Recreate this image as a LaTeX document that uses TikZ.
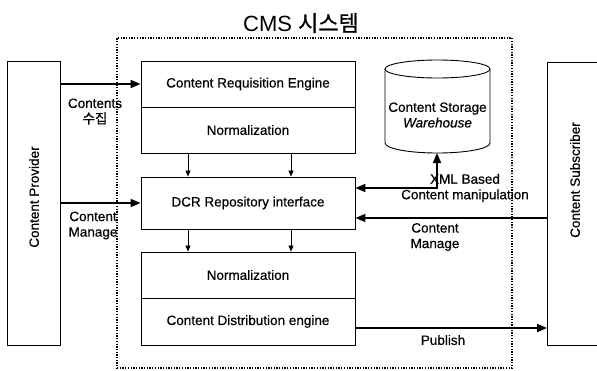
\documentclass[tikz,border=0pt]{standalone}
\usepackage{fontspec}
\setmainfont[FakeBold=0.5]{Liberation Sans}
\newfontfamily\plainfont{Liberation Sans}
\newfontfamily\krfont[FakeBold=0.8]{Noto Sans CJK KR}
\usetikzlibrary{arrows.meta}
\tikzset{
  blk/.style={draw, line width=0.9pt, inner sep=0pt, minimum width=214pt, font=\fontsize{13.5}{15}\selectfont},
  lbl/.style={inner sep=0pt, align=center, font=\fontsize{13.5}{15.5}\selectfont},
  sidebox/.style={draw, line width=0.9pt, inner sep=0pt},
  bigarrow/.style={line width=1.7pt, -{Triangle[length=10pt,width=8pt]}},
  bigarrowboth/.style={line width=1.7pt, {Triangle[length=10pt,width=8pt]}-{Triangle[length=10pt,width=8pt]}},
  smallarrow/.style={line width=0.8pt, -{Triangle[length=6pt,width=5pt]}},
  dotbox/.style={draw, line width=1.8pt, dash pattern=on 1.3pt off 1.4pt, inner sep=0pt}
}
\begin{document}
\begin{tikzpicture}[x=1pt,y=-1pt]
\clip (0,0) rectangle (597,370);
% title and dotted system box
\node[dotbox, minimum width=395pt, minimum height=330pt] (cms) at (314.5,203) {};
\node[inner sep=0pt, font=\fontsize{22}{24}\selectfont] (title) at (301,23) {{\plainfont CMS} {\krfont 시스템}};
% side boxes
\node[sidebox, minimum width=53pt, minimum height=284pt] (prov) at (33.5,203) {};
\node[lbl, rotate=90] (provtext) at (34,197) {Content Provider};
\node[sidebox, minimum width=70pt, minimum height=283pt, anchor=north west] (subs) at (547,62) {};
\node[lbl, rotate=90] (substext) at (575,180) {Content Subscriber};
% central blocks
\node[blk, minimum height=46pt] (req) at (248,84) {Content Requisition Engine};
\node[blk, minimum height=46pt] (norm1) at (248,130) {Normalization};
\node[blk, minimum height=52pt] (dcr) at (248,203) {DCR Repository interface};
\node[blk, minimum height=46pt] (norm2) at (248,275) {Normalization};
\node[blk, minimum height=47pt] (dist) at (248,321.5) {Content Distribution engine};
% cylinder
\draw[line width=0.9pt] (385,69) -- (385,143)
  arc[start angle=180, end angle=360, x radius=52.5pt, y radius=10pt] -- (490,69);
\draw[line width=0.9pt] (437.5,69) ellipse[x radius=52.5pt, y radius=9pt];
\node[lbl] (cyl) at (437.5,115) {Content Storage\\ \textit{Warehouse}};
\coordinate (cylbot) at (437,153);
% helper coordinates
\coordinate (xa) at (188,0);
\coordinate (xb) at (291,0);
\coordinate (yxml) at (0,188);
\coordinate (ycm) at (0,218);
\coordinate (ypub) at (0,328);
% small arrows
\draw[smallarrow] (norm1.south -| xa) -- (dcr.north -| xa);
\draw[smallarrow] (norm1.south -| xb) -- (dcr.north -| xb);
\draw[smallarrow] (dcr.south -| xa) -- (norm2.north -| xa);
\draw[smallarrow] (dcr.south -| xb) -- (norm2.north -| xb);
% big arrows
\draw[bigarrow] (prov.east |- req) -- (req.west);
\draw[bigarrow] (prov.east |- dcr) -- (dcr.west);
\draw[bigarrowboth] (dcr.east |- yxml) -| (cylbot);
\draw[bigarrow] (subs.west |- ycm) -- (dcr.east |- ycm);
\draw[bigarrow] (dist.east |- ypub) -- (subs.west |- ypub);
% labels
\node[lbl] (l1) at (95,111.5) {Contents\\ {\krfont 수집}};
\node[lbl] (l2) at (93,225.5) {Content\\ Manage};
\node[lbl] (l3) at (465,188) {XML Based\\ Content manipulation};
\node[lbl] (l4) at (435,237) {Content\\ Manage};
\node[lbl] (l5) at (443,340) {Publish};
\end{tikzpicture}
\end{document}
